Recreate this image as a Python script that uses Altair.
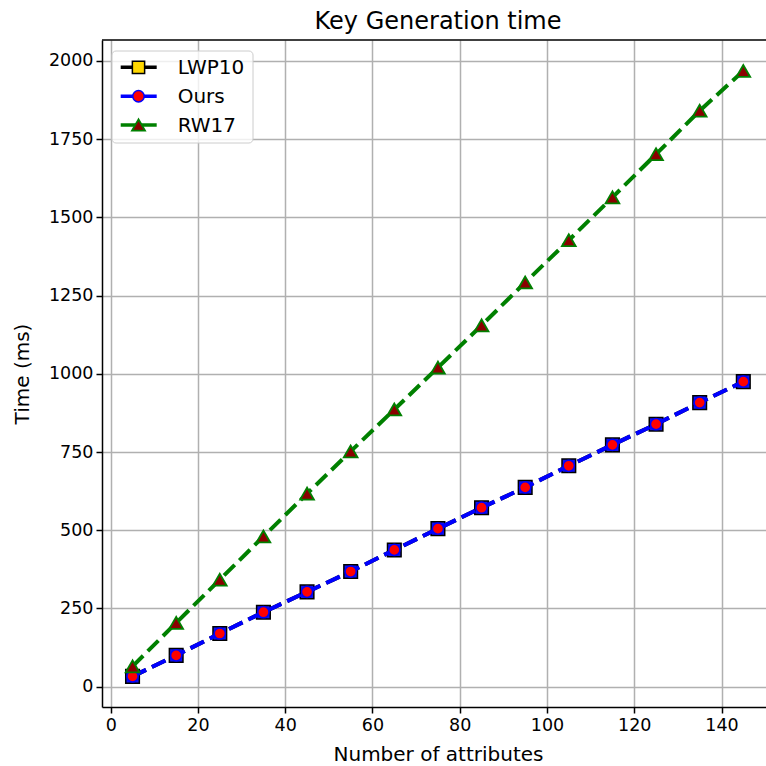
import altair as alt
import pandas as pd

# ---- data ----
attributes = [5, 15, 25, 35, 45, 55, 65, 75, 85, 95, 105, 115, 125, 135, 145]
lwp10 = [33, 100, 170, 238, 303, 368, 437, 505, 572, 637, 706, 773, 839, 908, 975]
ours = [33, 100, 170, 238, 303, 368, 437, 505, 572, 637, 706, 773, 839, 908, 975]
rw17 = [65, 204, 342, 480, 617, 752, 886, 1020, 1155, 1292, 1427, 1564, 1702, 1841, 1968]
series_names = ["LWP10", "Ours", "RW17"]
x_ticks = [0, 20, 40, 60, 80, 100, 120, 140]
y_ticks = [0, 250, 500, 750, 1000, 1250, 1500, 1750, 2000]
chart_title = "Key Generation time"

rows = []
for name, vals in zip(series_names, [lwp10, ours, rw17]):
    for a, v in zip(attributes, vals):
        rows.append({"series": name, "attributes": a, "time": v})
df = pd.DataFrame(rows)

W, H = 664, 667
FONT = "DejaVu Sans"

xscale = alt.Scale(domain=[-2, 150.2], nice=False, zero=False)
yscale = alt.Scale(domain=[-65, 2067], nice=False, zero=False)

xenc = alt.X("attributes:Q", scale=xscale,
             axis=alt.Axis(values=x_ticks, format="d", title="Number of attributes",
                           titleX=336, titleY=37, titleBaseline="top"))
yenc = alt.Y("time:Q", scale=yscale,
             axis=alt.Axis(values=y_ticks, format="d", title="Time (ms)",
                           titleX=-70, titleY=H / 2))

styles = {
    "LWP10": dict(line="black", shape="square", size=185, fill="#1010ee", stroke="black", sw=1.5),
    "Ours": dict(line="#0000ff", shape="circle", size=125, fill="#ff0000", stroke="#0000ff", sw=1.5),
    "RW17": dict(line="#008000", shape="triangle-up", size=190, fill="#8b0000", stroke="#008000", sw=1.8),
}

layers = []
for name in series_names:
    st = styles[name]
    base = alt.Chart(df).transform_filter(alt.datum.series == name)
    layers.append(
        base.mark_line(strokeDash=[15, 6.5], strokeWidth=4, color=st["line"]).encode(x=xenc, y=yenc)
    )
    layers.append(
        base.mark_point(shape=st["shape"], size=st["size"], filled=True, fill=st["fill"],
                        stroke=st["stroke"], strokeWidth=st["sw"], opacity=1).encode(x=xenc, y=yenc)
    )

one = alt.Data(values=[{}])

# top frame line
layers.append(
    alt.Chart(one).mark_rule(color="black", strokeWidth=1.5).encode(
        x=alt.value(0), x2=alt.value(W), y=alt.value(0))
)

# title
layers.append(
    alt.Chart(one).mark_text(text=chart_title, align="center", baseline="alphabetic", fontSize=24,
                             font=FONT, color="black").encode(
        x=alt.value(W / 2 + 4), y=alt.value(-11))
)

# legend
layers.append(
    alt.Chart(one).mark_rect(fill="white", fillOpacity=0.8, stroke="#cccccc", strokeWidth=1,
                             cornerRadius=4).encode(
        x=alt.value(10), x2=alt.value(151), y=alt.value(11), y2=alt.value(103))
)
leg_styles = {
    "LWP10": dict(line="black", shape="square", size=150, fill="#ffd700", stroke="black", sw=1.5),
    "Ours": dict(line="#0000ff", shape="circle", size=130, fill="#ff0000", stroke="#0000ff", sw=1.5),
    "RW17": dict(line="#008000", shape="triangle-up", size=170, fill="#8b0000", stroke="#008000", sw=1.8),
}
leg_y = [27.3, 56.2, 85.0]
for name, ly in zip(series_names, leg_y):
    st = leg_styles[name]
    layers.append(
        alt.Chart(one).mark_rule(color=st["line"], strokeWidth=3.5).encode(
            x=alt.value(18.7), x2=alt.value(54.7), y=alt.value(ly))
    )
    layers.append(
        alt.Chart(one).mark_point(shape=st["shape"], size=st["size"], filled=True, fill=st["fill"],
                                  stroke=st["stroke"], strokeWidth=st["sw"], opacity=1).encode(
            x=alt.value(36.5), y=alt.value(ly))
    )
    layers.append(
        alt.Chart(one).mark_text(text=name, align="left", baseline="middle", fontSize=20,
                                 font=FONT, color="black").encode(
            x=alt.value(75.7), y=alt.value(ly + 1))
    )

chart = alt.layer(*layers).properties(
    width=W, height=H,
    padding={"left": 102, "top": 40, "right": 0, "bottom": 59},
    autosize=alt.AutoSizeParams(type="none"),
    background="white",
).configure_view(stroke=None).configure_axis(
    grid=True, gridColor="#b0b0b0", gridWidth=1.5,
    domainColor="black", domainWidth=1.5,
    tickColor="black", tickWidth=1.5, tickSize=6,
    labelFont=FONT, labelFontSize=17.5, labelColor="black", labelPadding=3,
    titleFont=FONT, titleFontSize=20, titleFontWeight="normal", titleColor="black",
)

chart.save("out.html", embed_options={"renderer": "svg", "actions": False})
